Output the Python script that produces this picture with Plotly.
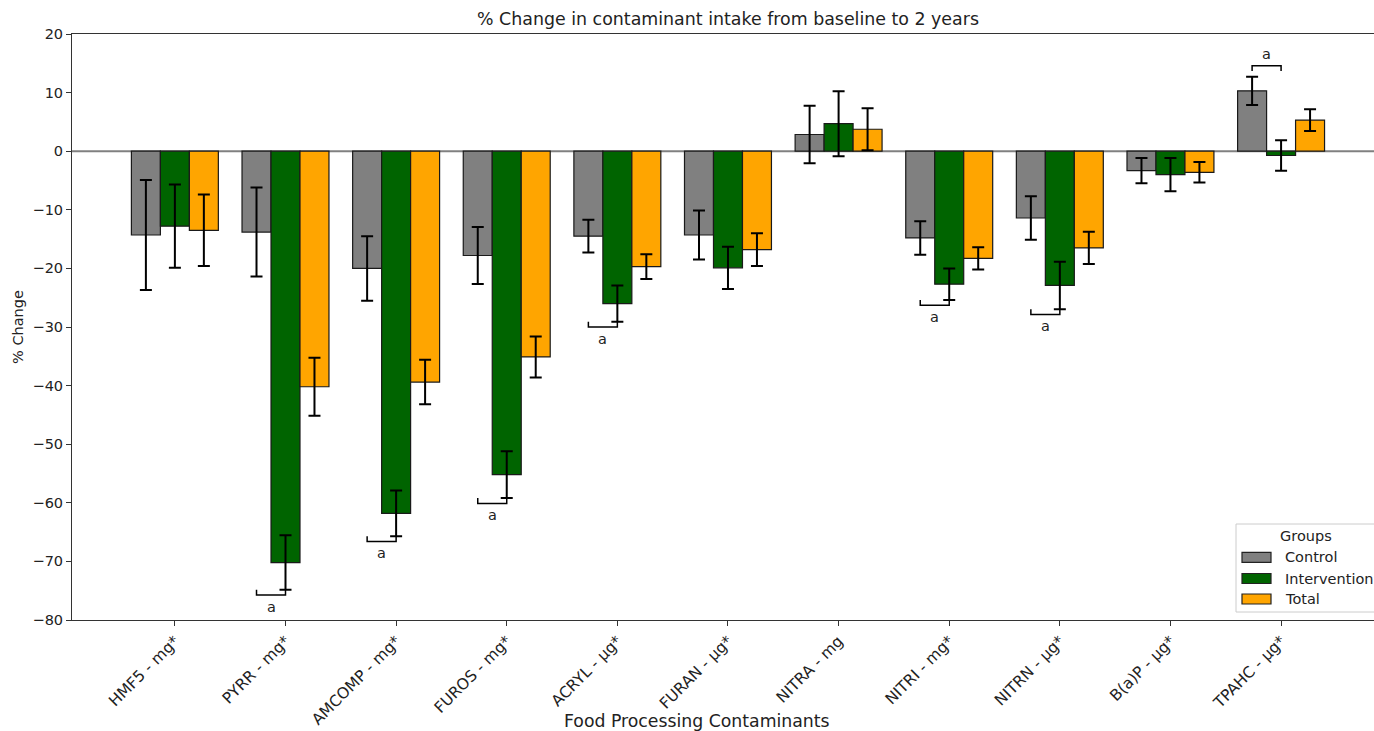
import plotly.graph_objects as go

categories = ["HMF5 - mg*", "PYRR - mg*", "AMCOMP - mg*", "FUROS - mg*", "ACRYL - µg*",
              "FURAN - µg*", "NITRA - mg", "NITRI - mg*", "NITRN - µg*", "B(a)P - µg*", "TPAHC - µg*"]
control = [-14.3, -13.8, -20.0, -17.8, -14.5, -14.3, 2.85, -14.8, -11.4, -3.3, 10.3]
control_err = [9.4, 7.6, 5.5, 4.85, 2.8, 4.2, 4.9, 2.85, 3.7, 2.15, 2.4]
intervention = [-12.8, -70.2, -61.8, -55.2, -26.0, -19.9, 4.7, -22.7, -22.9, -4.0, -0.73]
intervention_err = [7.1, 4.65, 3.9, 4.0, 3.1, 3.6, 5.55, 2.7, 4.05, 2.85, 2.6]
total = [-13.5, -40.2, -39.4, -35.1, -19.7, -16.8, 3.75, -18.3, -16.5, -3.6, 5.3]
total_err = [6.1, 4.95, 3.8, 3.5, 2.1, 2.8, 3.6, 1.9, 2.75, 1.75, 1.85]
significant = [False, True, True, True, True, False, False, True, True, False, True]

group_names = ["Control", "Intervention", "Total"]
group_colors = ["#808080", "#006400", "#FFA500"]

W = 0.262
idx = list(range(len(categories)))

# figure geometry (body margin removed by post_script)
FIG_W, FIG_H = 1374, 731
ML, MT, MB, MR = 72, 34, 111, 0
PW, PH = FIG_W - ML - MR, FIG_H - MT - MB


def px_x(vx):  # page px -> paper x
    return (vx - ML) / PW


def px_y(vy):  # page px -> paper y
    return (FIG_H - MB - vy) / PH


fig = go.Figure()
for k, (name, vals, errs, col) in enumerate(zip(group_names, [control, intervention, total],
                                                 [control_err, intervention_err, total_err], group_colors)):
    off = (k - 1) * W
    fig.add_trace(go.Bar(
        x=[i + off for i in idx], y=vals, width=W, name=name, showlegend=False,
        marker=dict(color=col, line=dict(color="#1a1a1a", width=1.2)),
        error_y=dict(type="data", array=errs, visible=True, color="black", thickness=2, width=6),
    ))

# significance brackets between Control and Intervention
bx, by = [], []
annots = []
for i in idx:
    if not significant[i]:
        continue
    x1, x2 = i - W, i
    if control[i] + intervention[i] > 0:
        yb = max(control[i] + control_err[i], intervention[i] + intervention_err[i]) + 1.9
        tick = yb - 0.9
        ty, anchor = yb + 0.3, "bottom"
    else:
        yb = min(control[i] - control_err[i], intervention[i] - intervention_err[i]) - 0.9
        tick = yb + 0.9
        ty, anchor = yb - 0.3, "top"
    bx += [x1, x1, x2, x2, None]
    by += [tick, yb, yb, tick, None]
    annots.append(dict(x=(x1 + x2) / 2, y=ty, xref="x", yref="y", text="a", showarrow=False,
                       yanchor=anchor, font=dict(size=14.5, color="#222")))

fig.add_trace(go.Scatter(x=bx, y=by, mode="lines", line=dict(color="black", width=1.5),
                         showlegend=False, hoverinfo="skip"))

annots.append(dict(text="% Change", xref="paper", yref="paper", x=0, y=0.5, xshift=-54,
                   textangle=-90, showarrow=False, font=dict(size=14.5, color="#222"),
                   xanchor="center", yanchor="middle"))
annots.append(dict(text="Food Processing Contaminants", xref="paper", yref="paper",
                   x=px_x(697), y=px_y(721), showarrow=False,
                   font=dict(size=17.3, color="#222"), xanchor="center", yanchor="middle"))

shapes = [dict(type="line", xref="paper", x0=0, x1=1, yref="y", y0=0, y1=0,
               line=dict(color="#808080", width=2), layer="below")]

# legend box ("Groups")
shapes.append(dict(type="rect", xref="paper", yref="paper", x0=px_x(1236), x1=px_x(1390),
                   y0=px_y(612), y1=px_y(524), line=dict(color="#cccccc", width=1),
                   fillcolor="white", layer="above"))
annots.append(dict(text="Groups", xref="paper", yref="paper", x=px_x(1306), y=px_y(536),
                   showarrow=False, xanchor="center", yanchor="middle",
                   font=dict(size=14.5, color="#222")))
for name, col, cy in zip(group_names, group_colors, [557.3, 578.5, 599.0]):
    shapes.append(dict(type="rect", xref="paper", yref="paper", x0=px_x(1242), x1=px_x(1271),
                       y0=px_y(cy + 5), y1=px_y(cy - 5), fillcolor=col,
                       line=dict(color="#222", width=1.2), layer="above"))
    annots.append(dict(text=name, xref="paper", yref="paper", x=px_x(1283), y=px_y(cy),
                       showarrow=False, xanchor="left", yanchor="middle",
                       font=dict(size=14.5, color="#222")))

fig.update_layout(
    width=FIG_W, height=FIG_H,
    margin=dict(l=ML, r=MR, t=MT, b=MB),
    plot_bgcolor="white", paper_bgcolor="white",
    font=dict(family="DejaVu Sans", size=14.5, color="#222"),
    barmode="overlay",
    title=dict(text="% Change in contaminant intake from baseline to 2 years",
               x=728 / FIG_W, xref="container", xanchor="center",
               y=1 - 19 / FIG_H, yref="container", yanchor="middle",
               font=dict(size=17.4, color="#222")),
    showlegend=False,
    annotations=annots,
    shapes=shapes,
)
fig.update_xaxes(range=[-0.93, 10.84], tickvals=idx, ticktext=categories, tickangle=-45,
                 ticks="outside", ticklen=5, tickcolor="#333", showline=True, linecolor="#333",
                 linewidth=1, mirror=True, showgrid=False, zeroline=False,
                 tickfont=dict(size=15.5))
fig.update_yaxes(range=[-80, 20], dtick=10, ticks="outside", ticklen=5, tickcolor="#333",
                 showline=True, linecolor="#333", linewidth=1, showgrid=False, zeroline=False,
                 tickfont=dict(size=14.5))

fig.write_html("out.html", config={"displayModeBar": False},
               post_script="document.body.style.margin='0px';"
                           "document.documentElement.style.overflow='hidden';")
